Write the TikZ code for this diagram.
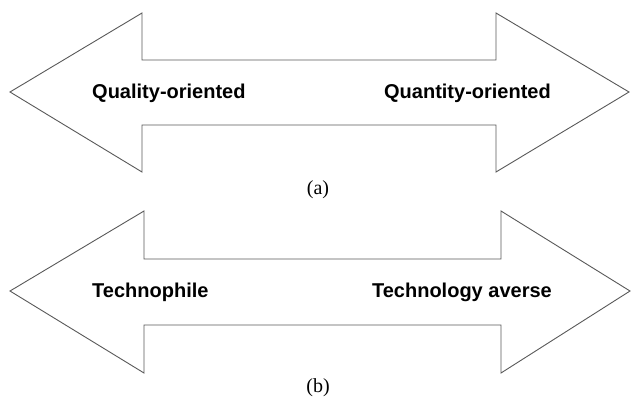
\documentclass[tikz,border=0pt]{standalone}
\usepackage{fontspec}
\setmainfont{Liberation Serif}
\newfontfamily\labfont{Liberation Sans}
\tikzset{
  bigarrow/.style={draw=black!65, line width=0.9bp, fill=white, line join=miter},
  lab/.style={font=\labfont\bfseries\fontsize{20bp}{24bp}\selectfont, inner sep=0pt},
  captext/.style={font=\fontsize{20bp}{24bp}\selectfont, inner sep=0pt}
}
\begin{document}
\begin{tikzpicture}[x=1bp,y=-1bp]
\useasboundingbox (0,0) rectangle (632,405);
% arrow (a)
\draw[bigarrow] (10,92) -- (142,13) -- (142,60) -- (496,60) -- (496,13) -- (629,92)
  -- (496,172) -- (496,125) -- (142,125) -- (142,172) -- cycle;
\node[lab, anchor=west] (qual) at (92,93) {Quality-oriented};
\node[lab, anchor=east] (quan) at (551,93) {Quantity-oriented};
\node[captext] (capa) at (318,190) {(a)};
% arrow (b)
\draw[bigarrow] (10,291) -- (144,211) -- (144,259) -- (501,259) -- (501,211) -- (630,291)
  -- (501,373) -- (501,325) -- (144,325) -- (144,373) -- cycle;
\node[lab, anchor=west] (tech) at (92,292) {Technophile};
\node[lab, anchor=east] (aver) at (552,292) {Technology averse};
\node[captext] (capb) at (318,388) {(b)};
\end{tikzpicture}
\end{document}
